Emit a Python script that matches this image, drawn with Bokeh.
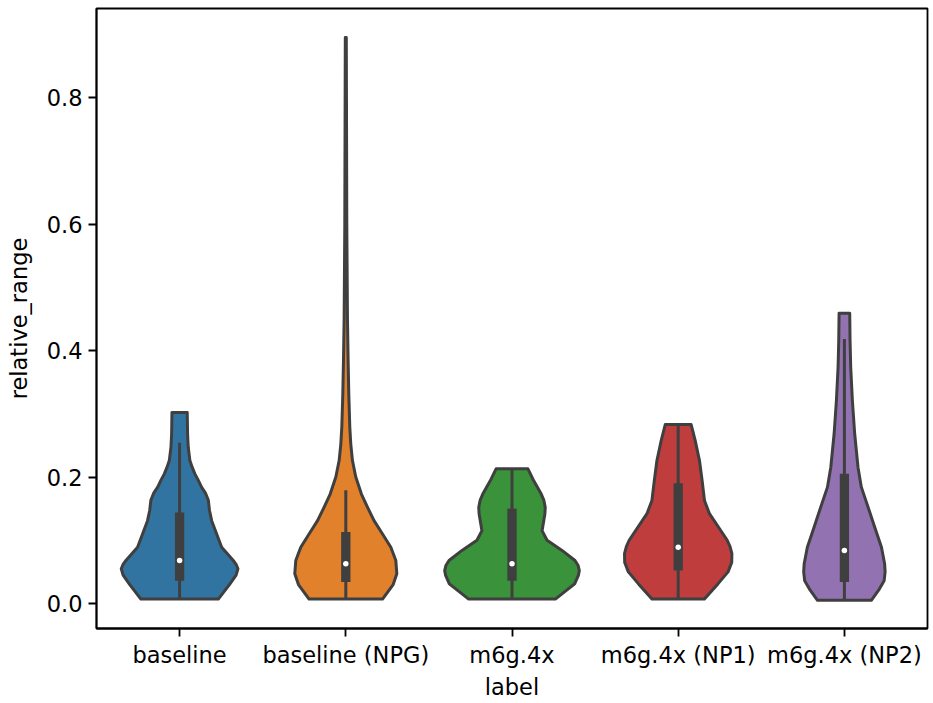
from bokeh.plotting import figure
from bokeh.models import ColumnDataSource, FixedTicker, Range1d
from bokeh.embed import file_html
from bokeh.resources import INLINE

# ---- data ----
labels = ["baseline", "baseline (NPG)", "m6g.4x", "m6g.4x (NP1)", "m6g.4x (NP2)"]
colors = ["#3274a1", "#e1812c", "#3a923a", "#c03d3e", "#9372b2"]

# violin outlines: y values and half widths (in category-width units)
blue_y = [0.007, 0.030, 0.045, 0.055, 0.062, 0.068, 0.078, 0.089, 0.110, 0.131, 0.147, 0.163, 0.175, 0.184, 0.195, 0.205, 0.216, 0.226, 0.247, 0.268, 0.302]
blue_w = [0.233, 0.300, 0.340, 0.351, 0.340, 0.323, 0.290, 0.253, 0.223, 0.193, 0.180, 0.173, 0.155, 0.132, 0.112, 0.092, 0.075, 0.062, 0.052, 0.048, 0.046]

orange_y = [0.007, 0.030, 0.047, 0.068, 0.089, 0.110, 0.131, 0.152, 0.173, 0.200, 0.226, 0.252, 0.279, 0.331, 0.384, 0.450, 0.600, 0.800, 0.895]
orange_w = [0.221, 0.285, 0.307, 0.301, 0.271, 0.221, 0.170, 0.131, 0.094, 0.060, 0.040, 0.030, 0.024, 0.018, 0.014, 0.010, 0.006, 0.004, 0.003]

green_y = [0.007, 0.031, 0.045, 0.052, 0.060, 0.068, 0.084, 0.100, 0.115, 0.131, 0.142, 0.152, 0.163, 0.173, 0.194, 0.213]
green_w = [0.261, 0.377, 0.400, 0.405, 0.398, 0.379, 0.301, 0.211, 0.181, 0.191, 0.198, 0.200, 0.192, 0.176, 0.131, 0.096]

red_y = [0.007, 0.031, 0.050, 0.065, 0.079, 0.090, 0.100, 0.121, 0.142, 0.163, 0.194, 0.226, 0.258, 0.283]
red_w = [0.158, 0.239, 0.300, 0.322, 0.323, 0.312, 0.295, 0.242, 0.188, 0.158, 0.144, 0.128, 0.102, 0.078]

purple_y = [0.005, 0.021, 0.036, 0.050, 0.063, 0.089, 0.121, 0.152, 0.184, 0.215, 0.268, 0.321, 0.374, 0.416, 0.459]
purple_w = [0.162, 0.206, 0.239, 0.245, 0.242, 0.223, 0.182, 0.143, 0.102, 0.082, 0.062, 0.048, 0.038, 0.034, 0.032]

violin_y = [blue_y, orange_y, green_y, red_y, purple_y]
violin_w = [blue_w, orange_w, green_w, red_w, purple_w]

# box statistics
q1 = [0.036, 0.034, 0.036, 0.052, 0.034]
q3 = [0.144, 0.113, 0.150, 0.190, 0.205]
med = [0.068, 0.063, 0.063, 0.089, 0.084]
whisk_lo = [0.007, 0.007, 0.007, 0.007, 0.005]
whisk_hi = [0.254, 0.179, 0.213, 0.283, 0.418]

yticks = [0.0, 0.2, 0.4, 0.6, 0.8]

# ---- build ----
pos = list(range(len(labels)))
xs, ys = [], []
for c, yy, ww in zip(pos, violin_y, violin_w):
    xs.append([c - w for w in ww] + [c + w for w in reversed(ww)])
    ys.append(list(yy) + list(reversed(yy)))

FONT = "DejaVu Sans"
FS = "22.5px"
LINE = "#3f3f3f"

p = figure(width=933, height=703, output_backend="svg", toolbar_location=None,
           x_range=Range1d(-0.5, 4.5), y_range=Range1d(-0.0395, 0.9407),
           min_border_left=96, min_border_right=6, min_border_top=8, min_border_bottom=75)

p.patches(xs=xs, ys=ys, fill_color=colors, line_color=LINE, line_width=3, line_join="round")

src = ColumnDataSource(dict(x=pos, q1=q1, q3=q3, med=med, lo=whisk_lo, hi=whisk_hi))
p.segment(x0="x", x1="x", y0="lo", y1="hi", source=src, line_color=LINE, line_width=3)
p.vbar(x="x", bottom="q1", top="q3", width=0.056, source=src, fill_color=LINE, line_color=None)
p.scatter(x="x", y="med", source=src, size=5.5, fill_color="white", line_color=None)

p.xgrid.visible = False
p.ygrid.visible = False
p.outline_line_color = "black"
p.outline_line_width = 1.8
p.background_fill_color = "white"
p.border_fill_color = "white"

p.xaxis.ticker = FixedTicker(ticks=pos)
p.xaxis.major_label_overrides = {i: l for i, l in enumerate(labels)}
p.yaxis.ticker = FixedTicker(ticks=yticks)
p.yaxis.major_label_overrides = {t: f"{t:.1f}" for t in yticks}

p.xaxis.axis_label = "label"
p.yaxis.axis_label = "relative_range"

for ax in (p.xaxis, p.yaxis):
    ax.axis_line_color = "black"
    ax.axis_line_width = 1.8
    ax.major_tick_line_color = "black"
    ax.major_tick_line_width = 1.8
    ax.major_tick_out = 8
    ax.major_tick_in = 0
    ax.minor_tick_line_color = None
    ax.major_label_text_font = FONT
    ax.major_label_text_font_size = FS
    ax.major_label_text_color = "black"
    ax.axis_label_text_font = FONT
    ax.axis_label_text_font_size = FS
    ax.axis_label_text_font_style = "normal"
    ax.axis_label_text_color = "black"

p.yaxis.major_label_standoff = 6
p.xaxis.major_label_standoff = 5
p.yaxis.axis_label_standoff = 12
p.xaxis.axis_label_standoff = 3

open("out.html", "w").write(file_html(p, INLINE))
